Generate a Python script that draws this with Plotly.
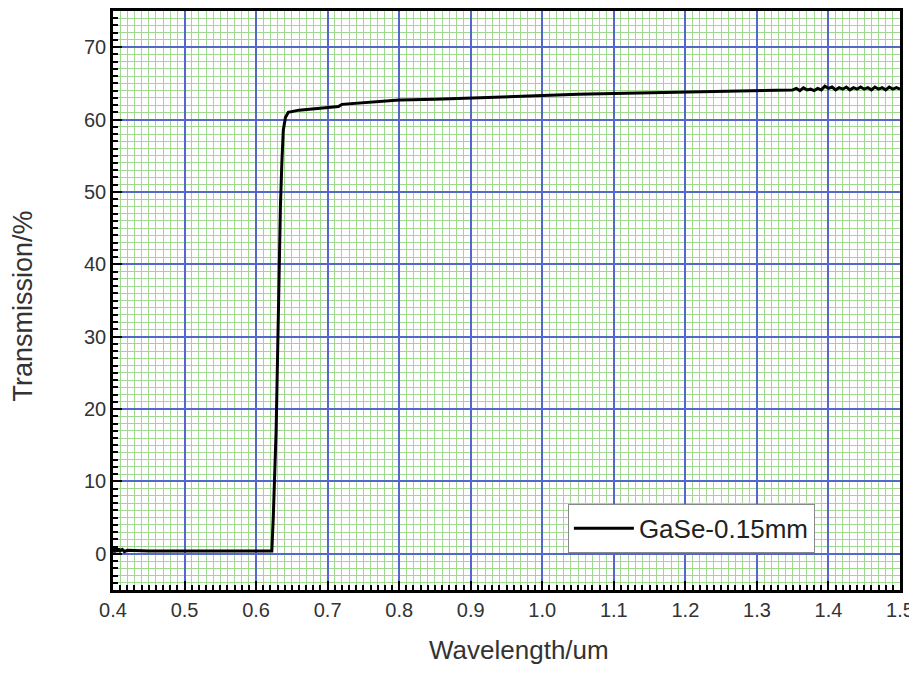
import plotly.graph_objects as go

wavelength = [0.400, 0.402, 0.404, 0.406, 0.408, 0.410, 0.413, 0.416, 0.420, 0.450,
              0.500, 0.550, 0.600, 0.622, 0.624, 0.626, 0.628, 0.629, 0.631, 0.632,
              0.634, 0.636, 0.638, 0.641, 0.645, 0.660, 0.680, 0.700, 0.715, 0.720,
              0.750, 0.800, 0.850, 0.900, 0.950, 1.000, 1.050, 1.100, 1.150, 1.200,
              1.250, 1.300, 1.330, 1.350, 1.355, 1.360, 1.365, 1.370, 1.375, 1.380,
              1.385, 1.390, 1.395, 1.400, 1.405, 1.410, 1.415, 1.420, 1.425, 1.430,
              1.435, 1.440, 1.445, 1.450, 1.455, 1.460, 1.465, 1.470, 1.475, 1.480,
              1.485, 1.490, 1.495, 1.500]
transmission = [0.8, 0.2, 1.0, 0.3, 0.7, 0.4, 0.6, 0.3, 0.5, 0.4,
                0.4, 0.4, 0.4, 0.4, 5.0, 10.0, 17.0, 22.0, 32.0, 40.0,
                48.0, 54.0, 58.5, 60.3, 61.0, 61.3, 61.5, 61.7, 61.8, 62.1,
                62.3, 62.7, 62.8, 63.0, 63.2, 63.4, 63.5, 63.6, 63.7, 63.8,
                63.9, 64.0, 64.05, 64.1, 64.3, 64.0, 64.4, 64.1, 64.2, 64.0,
                64.3, 64.1, 64.6, 64.3, 64.5, 64.1, 64.4, 64.2, 64.5, 64.1,
                64.4, 64.2, 64.5, 64.2, 64.4, 64.1, 64.5, 64.2, 64.4, 64.1,
                64.5, 64.2, 64.4, 64.2]

x_ticks = [0.4, 0.5, 0.6, 0.7, 0.8, 0.9, 1.0, 1.1, 1.2, 1.3, 1.4, 1.5]
y_ticks = [0, 10, 20, 30, 40, 50, 60, 70]
series_name = "GaSe-0.15mm"
x_title = "Wavelength/um"
y_title = "Transmission/%"

BLUE = "#5468cc"
GREEN = "#9fd690"
FONT = "Liberation Sans, Arial, sans-serif"
TXT = "#333333"

fig = go.Figure()
fig.add_trace(go.Scatter(x=wavelength, y=transmission, mode="lines",
                         name=series_name,
                         line=dict(color="black", width=3)))

fig.update_layout(
    width=909, height=659,
    margin=dict(l=105, r=17, t=0, b=77),
    paper_bgcolor="white", plot_bgcolor="white",
    font=dict(family=FONT, color=TXT),
    showlegend=True,
    legend=dict(x=0.578, y=0.149, xanchor="left", yanchor="top",
                bgcolor="white", bordercolor="#888888", borderwidth=1,
                font=dict(size=26, color="#222222", family=FONT),
                itemwidth=60, tracegroupgap=0),
    annotations=[
        dict(text=x_title, xref="paper", yref="paper", x=0.516, y=-0.104,
             xanchor="center", yanchor="middle", showarrow=False,
             font=dict(size=26, color=TXT, family=FONT)),
        dict(text=y_title, xref="paper", yref="paper", x=-0.114, y=0.49,
             xanchor="center", yanchor="middle", showarrow=False, textangle=-90,
             font=dict(size=27, color=TXT, family=FONT)),
    ],
)

fig.update_xaxes(
    range=[0.4, 1.5], tickvals=x_ticks, ticktext=[f"{v:.1f}" for v in x_ticks],
    showline=True, linecolor="black", linewidth=2.5, mirror=True,
    ticks="inside", ticklen=9, tickwidth=2, tickcolor="black",
    tickfont=dict(size=20, color=TXT),
    showgrid=True, gridcolor=BLUE, gridwidth=1.5,
    minor=dict(dtick=0.01, ticks="inside", ticklen=5, tickwidth=2, tickcolor="black",
               showgrid=True, gridcolor=GREEN, gridwidth=1),
    zeroline=False,
)
fig.update_yaxes(
    range=[-5, 75], tickvals=y_ticks,
    showline=True, linecolor="black", linewidth=2.5, mirror=True,
    ticks="inside", ticklen=9, tickwidth=2, tickcolor="black",
    tickfont=dict(size=20, color=TXT),
    showgrid=True, gridcolor=BLUE, gridwidth=1.5,
    minor=dict(dtick=1, ticks="inside", ticklen=5, tickwidth=2, tickcolor="black",
               showgrid=True, gridcolor=GREEN, gridwidth=1),
    zeroline=False,
)

fig.write_html("out.html")
